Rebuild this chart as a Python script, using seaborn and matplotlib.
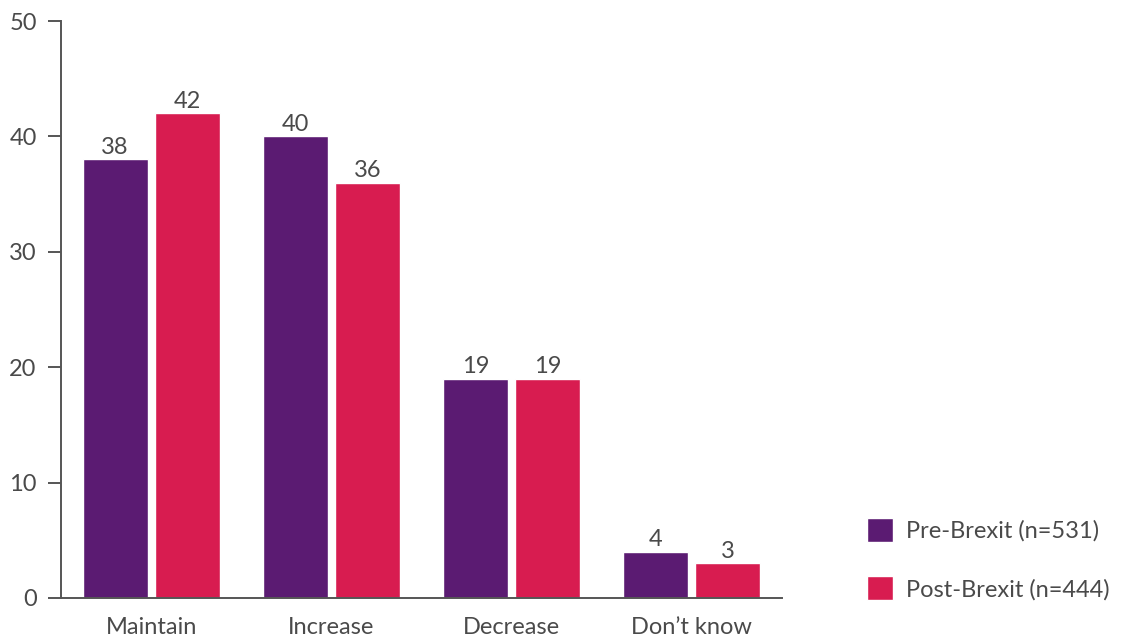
import pandas as pd
import matplotlib.pyplot as plt
import seaborn as sns

# data
categories = ['Maintain', 'Increase', 'Decrease', 'Don\u2019t know']
pre_brexit = [38, 40, 19, 4]
post_brexit = [42, 36, 19, 3]
series_names = ['Pre-Brexit (n=531)', 'Post-Brexit (n=444)']
y_ticks = [0, 10, 20, 30, 40, 50]

colors = ['#5B1B72', '#D81C50']
text_color = '#4a4a4a'
axis_color = '#555555'

df = pd.DataFrame({
    'category': categories * 2,
    'value': pre_brexit + post_brexit,
    'series': [series_names[0]] * len(categories) + [series_names[1]] * len(categories),
})

sns.set_style('white')
plt.rcParams['font.family'] = ['Lato', 'DejaVu Sans']
fs = 17

fig = plt.figure(figsize=(11.22, 6.41), dpi=100)
ax = fig.add_axes([61 / 1122, 1 - 598 / 641, (782 - 61) / 1122, (598 - 21) / 641])

sns.barplot(data=df, x='category', y='value', hue='series', order=categories,
            hue_order=series_names, palette=colors, width=0.8, gap=0.1,
            saturation=1, ax=ax, legend=True)

for container in ax.containers:
    ax.bar_label(container, fmt='%d', padding=1, fontsize=fs, color=text_color)

ax.set_xlim(-0.5, 3.5)
ax.set_ylim(0, 50)
ax.set_yticks(y_ticks)
ax.set_xlabel('')
ax.set_ylabel('')

for side in ['top', 'right']:
    ax.spines[side].set_visible(False)
for side in ['left', 'bottom']:
    ax.spines[side].set_color(axis_color)
    ax.spines[side].set_linewidth(1.4)

ax.tick_params(axis='y', length=9.5, width=1.4, color=axis_color, pad=8,
               labelsize=fs, labelcolor=text_color, left=True)
ax.tick_params(axis='x', length=0, pad=14, labelsize=fs, labelcolor=text_color)

ax.legend(loc='center left', bbox_to_anchor=(858 / 1122, 1 - 559 / 641),
          bbox_transform=fig.transFigure, frameon=False, fontsize=fs,
          handlelength=1.1, handleheight=1.2, handletextpad=0.55,
          labelspacing=1.45, labelcolor=text_color, borderaxespad=0)

fig.savefig('out.png', dpi=100)
